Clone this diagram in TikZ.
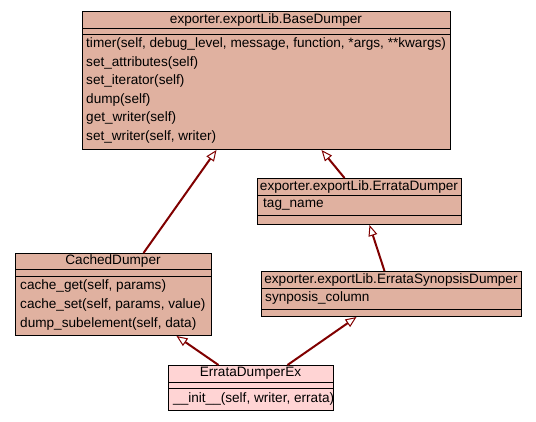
\documentclass[tikz,border=0pt]{standalone}
\usepackage{fontspec}
\setmainfont{Liberation Sans}
\usetikzlibrary{arrows.meta}

\definecolor{clsfill}{RGB}{224,177,160}
\definecolor{exfill}{RGB}{255,212,212}
\definecolor{linkred}{RGB}{128,0,0}

\tikzset{
  classbox/.style={draw=black, line width=1pt, fill=clsfill, inner sep=0pt,
    anchor=north west},
  headtext/.style={inner sep=0pt, font=\fontsize{13.6}{15}\selectfont},
  rowtext/.style={inner sep=0pt, anchor=west, font=\fontsize{13.6}{15}\selectfont},
  inherit/.style={draw=linkred, line width=2pt,
    -{Triangle[length=11pt, width=9pt, fill=white, line width=1pt]}},
}

\begin{document}
\begin{tikzpicture}[x=1pt, y=-1pt]
  \useasboundingbox (0,0) rectangle (536,421);

  % base class
  \node[classbox, minimum width=368pt, minimum height=138pt] (base) at (82,11) {};
  \draw[line width=1pt] (82,28) -- +(368,0);
  \draw[line width=1pt] (82,34) -- +(368,0);
  \node[headtext] (baseT) at (266,19.5) {exporter.exportLib.BaseDumper};
  \foreach \m [count=\i from 0] in {{timer(self, debug\_level, message, function, *args, **kwargs)},
      {set\_attributes(self)}, {set\_iterator(self)}, {dump(self)},
      {get\_writer(self)}, {set\_writer(self, writer)}}
    \node[rowtext] at (86,44+18.6*\i) {\m};

  % errata dumper
  \node[classbox, minimum width=204pt, minimum height=46pt] (errata) at (257,178) {};
  \draw[line width=1pt] (257,195) -- +(204,0);
  \draw[line width=1pt] (257,215) -- +(204,0);
  \node[headtext] (errataT) at (359,186.5) {exporter.exportLib.ErrataDumper};
  \node[rowtext] at (263,205) {tag\_name};

  % synopsis dumper
  \node[classbox, minimum width=260pt, minimum height=45pt] (synopsis) at (261,271) {};
  \draw[line width=1pt] (261,288) -- +(260,0);
  \draw[line width=1pt] (261,309) -- +(260,0);
  \node[headtext] (synopsisT) at (391,279.5) {exporter.exportLib.ErrataSynopsisDumper};
  \node[rowtext] at (265,298) {synposis\_column};

  % cached dumper
  \node[classbox, minimum width=196pt, minimum height=82pt] (cached) at (15,253) {};
  \draw[line width=1pt] (15,269) -- +(196,0);
  \draw[line width=1pt] (15,276) -- +(196,0);
  \node[headtext] (cachedT) at (113,261) {CachedDumper};
  \foreach \m [count=\i from 0] in {{cache\_get(self, params)},
      {cache\_set(self, params, value)}, {dump\_subelement(self, data)}}
    \node[rowtext] at (20,286+19*\i) {\m};

  % derived class
  \node[classbox, fill=exfill, minimum width=165pt, minimum height=45pt] (ex) at (168,365) {};
  \draw[line width=1pt] (168,382) -- +(165,0);
  \draw[line width=1pt] (168,388) -- +(165,0);
  \node[headtext] (exT) at (250.5,373.5) {ErrataDumperEx};
  \node[rowtext] at (173,399) {\_\_init\_\_(self, writer, errata)};

  % inheritance links
  \draw[inherit] ([xshift=30pt]cached.north) -- ([xshift=-50pt]base.south);
  \draw[inherit] ([xshift=-15pt]errata.north) -- ([xshift=55pt]base.south);
  \draw[inherit] ([xshift=-7pt]synopsis.north) -- ([xshift=10pt]errata.south);
  \draw[inherit] ([xshift=-32.5pt]ex.north) -- ([xshift=63pt]cached.south);
  \draw[inherit] ([xshift=36.5pt]ex.north) -- ([xshift=-35pt]synopsis.south);
\end{tikzpicture}
\end{document}
